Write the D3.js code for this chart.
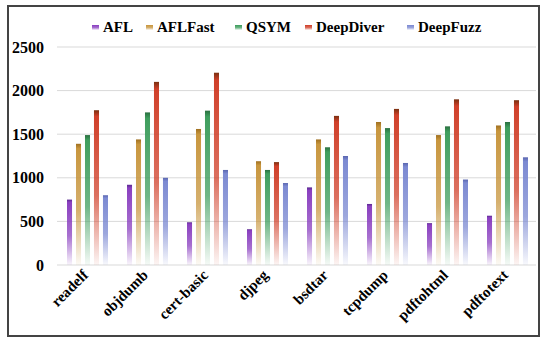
<!DOCTYPE html>
<html>
<head>
<meta charset="utf-8">
<script src="https://cdn.jsdelivr.net/npm/d3@7"></script>
<style>
  body { margin: 0; background: #fff; }
  svg text { font-family: "Liberation Serif", "Times New Roman", serif; font-weight: bold; fill: #000; }
</style>
</head>
<body>
<svg id="chart" width="550" height="345"></svg>
<script>
// programs on the x axis
var programs = ["readelf", "objdumb", "cert-basic", "djpeg", "bsdtar", "tcpdump", "pdftohtml", "pdftotext"];
var fuzzers = ["AFL", "AFLFast", "QSYM", "DeepDiver", "DeepFuzz"];

// values per fuzzer, same order as programs
var afl       = [750, 920, 490, 410, 890, 700, 480, 565];
var aflFast   = [1390, 1440, 1560, 1190, 1440, 1640, 1490, 1600];
var qsym      = [1490, 1750, 1770, 1090, 1350, 1570, 1590, 1640];
var deepDiver = [1775, 2100, 2205, 1180, 1710, 1790, 1900, 1890];
var deepFuzz  = [800, 1000, 1090, 940, 1250, 1170, 980, 1235];

var yTicks = [0, 500, 1000, 1500, 2000, 2500];

// bar colours: [top cap, main]
var colours = {
  "AFL":       ["#5a2a90", "#8a40c0"],
  "AFLFast":   ["#a07020", "#c8963e"],
  "QSYM":      ["#2a7040", "#3f9e5e"],
  "DeepDiver": ["#7a3010", "#d0402a"],
  "DeepFuzz":  ["#5a66b0", "#7c8ad2"]
};

var series = [afl, aflFast, qsym, deepDiver, deepFuzz];

var svg = d3.select("#chart");

// outer frame
svg.append("rect")
  .attr("x", 8).attr("y", 6)
  .attr("width", 531).attr("height", 330)
  .attr("fill", "#fff")
  .attr("stroke", "#444")
  .attr("stroke-width", 2);

var defs = svg.append("defs");
fuzzers.forEach(function (f, i) {
  var g = defs.append("linearGradient")
    .attr("id", "grad" + i)
    .attr("x1", 0).attr("y1", 0).attr("x2", 0).attr("y2", 1);
  g.append("stop").attr("offset", "0%").attr("stop-color", colours[f][0]);
  g.append("stop").attr("offset", "4%").attr("stop-color", colours[f][1]);
  g.append("stop").attr("offset", "55%").attr("stop-color", colours[f][1]).attr("stop-opacity", 0.75);
  g.append("stop").attr("offset", "100%").attr("stop-color", colours[f][1]).attr("stop-opacity", 0.05);
});

var x0 = d3.scaleBand().domain(programs).range([57, 537]).padding(0);
var x1 = d3.scaleBand().domain(fuzzers).range([10, 51]).paddingInner(0.44).paddingOuter(0);
var y = d3.scaleLinear().domain([0, 2500]).range([265, 47]);

// grid lines
svg.append("g").selectAll("line")
  .data(yTicks)
  .enter().append("line")
  .attr("x1", 57).attr("x2", 536)
  .attr("y1", function (d) { return y(d); })
  .attr("y2", function (d) { return y(d); })
  .attr("stroke", "#d9d9d9")
  .attr("stroke-width", 1);

// y tick labels
svg.append("g").selectAll("text")
  .data(yTicks)
  .enter().append("text")
  .attr("x", 44)
  .attr("y", function (d) { return y(d); })
  .attr("dy", "0.35em")
  .attr("text-anchor", "end")
  .attr("font-size", 16)
  .text(function (d) { return d; });

// bars
var groups = svg.append("g").selectAll("g")
  .data(programs)
  .enter().append("g")
  .attr("transform", function (d) { return "translate(" + x0(d) + ",0)"; });

groups.selectAll("rect")
  .data(function (d, pi) {
    return fuzzers.map(function (f, fi) { return { fuzzer: f, idx: fi, value: series[fi][pi] }; });
  })
  .enter().append("rect")
  .attr("x", function (d) { return x1(d.fuzzer); })
  .attr("width", x1.bandwidth())
  .attr("y", function (d) { return y(d.value); })
  .attr("height", function (d) { return y(0) - y(d.value); })
  .attr("fill", function (d) { return "url(#grad" + d.idx + ")"; });

// x labels, rotated
svg.append("g").selectAll("text")
  .data(programs)
  .enter().append("text")
  .attr("text-anchor", "end")
  .attr("font-size", 15)
  .attr("transform", function (d) {
    return "translate(" + (x0(d) + x0.bandwidth() / 2 + 2) + ",276) rotate(-45)";
  })
  .text(function (d) { return d; });

// legend
var legendX = [92, 146, 235, 305, 407];
var legend = svg.append("g").selectAll("g")
  .data(fuzzers)
  .enter().append("g")
  .attr("transform", function (d, i) { return "translate(" + legendX[i] + ",27)"; });

legend.append("rect")
  .attr("x", 0).attr("y", -2)
  .attr("width", 7).attr("height", 5)
  .attr("fill", function (d, i) { return "url(#grad" + i + ")"; });

legend.append("text")
  .attr("x", 11)
  .attr("dy", "0.35em")
  .attr("font-size", 15)
  .text(function (d) { return d; });
</script>
</body>
</html>
